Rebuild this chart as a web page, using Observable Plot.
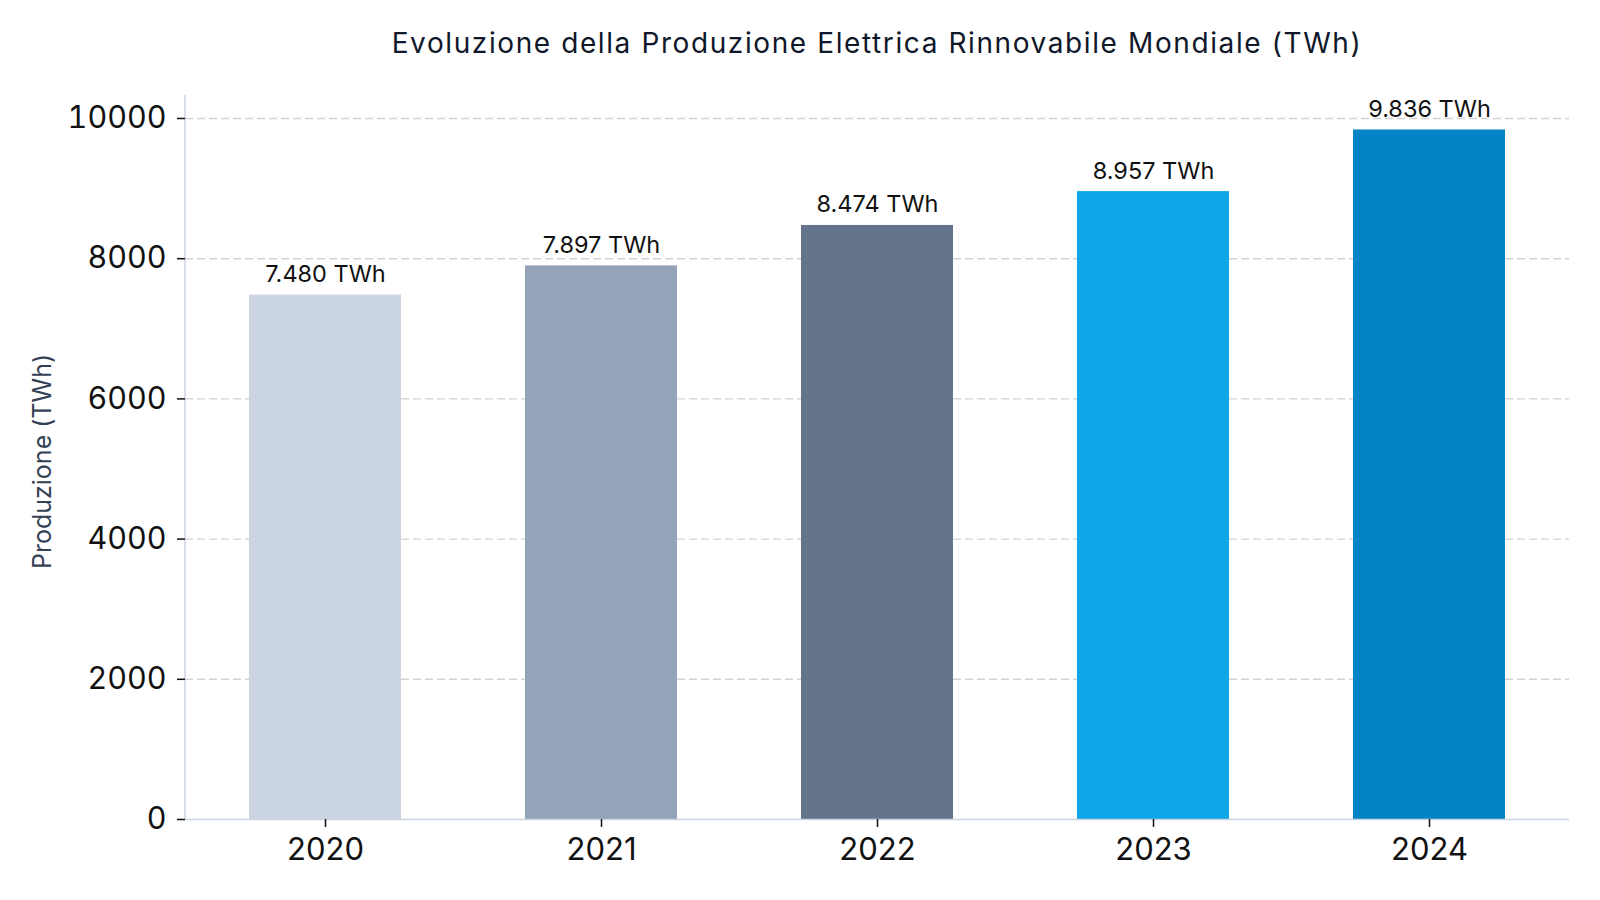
<!DOCTYPE html>
<html>
<head>
<meta charset="utf-8">
<script src="https://cdn.jsdelivr.net/npm/d3@7"></script>
<script src="https://cdn.jsdelivr.net/npm/@observablehq/plot@0.6"></script>
<style>
  html, body { margin: 0; padding: 0; background: #fff; overflow: hidden; }
  #wrap { width: 1600px; height: 900px; font-family: "Inter", "Open Sans", sans-serif; overflow: hidden; }
  #title { height: 80px; box-sizing: border-box; padding-left: 185px; padding-right: 31px; padding-top: 23px;
           text-align: center; font-size: 28px; letter-spacing: 1.6px; color: #0f172a; line-height: 40px; white-space: nowrap; }
  #chart svg { display: block; }
</style>
</head>
<body>
<div id="wrap">
  <div id="title">Evoluzione della Produzione Elettrica Rinnovabile Mondiale (TWh)</div>
  <div id="chart"></div>
</div>
<script>
const years = ["2020", "2021", "2022", "2023", "2024"];
const production = [7480, 7897, 8474, 8957, 9836];
const barColors = ["#cbd5e1", "#94a3b8", "#64748b", "#0ea5e9", "#0284c7"];
const yTicks = [0, 2000, 4000, 6000, 8000, 10000];
const yLabel = "Produzione (TWh)";
const unit = "TWh";

const itLocale = d3.formatLocale({decimal: ",", thousands: ".", grouping: [3], currency: ["€", ""]});
const fmt = itLocale.format(",d");

const data = years.map((y, i) => ({year: y, value: production[i], color: barColors[i]}));

const leftLine = (index, scales, values, dimensions) => {
  const {marginLeft, marginTop, height, marginBottom} = dimensions;
  const line = d3.create("svg:line")
    .attr("x1", marginLeft).attr("x2", marginLeft)
    .attr("y1", marginTop).attr("y2", height - marginBottom)
    .attr("stroke", "#cbd5e1").attr("stroke-width", 1.5);
  return line.node();
};

const chart = Plot.plot({
  width: 1600,
  height: 820,
  marginTop: 15,
  marginBottom: 81,
  marginLeft: 185,
  marginRight: 31,
  style: {fontFamily: "Inter, 'Open Sans', sans-serif", background: "#fff", color: "#111", maxWidth: "none"},
  x: {domain: years, paddingInner: 0.45, paddingOuter: 0.225, label: null},
  y: {domain: [0, d3.max(production) * 1.05], label: null},
  marks: [
    Plot.gridY(yTicks.slice(1), {stroke: "#d4d4d4", strokeOpacity: 1, strokeDasharray: "8,4", strokeWidth: 1.4}),
    Plot.barY(data, {x: "year", y: "value", fill: "color"}),
    Plot.text(data, {x: "year", y: "value", text: d => `${fmt(d.value)} ${unit}`, lineAnchor: "bottom", dy: -13, fontSize: 23.5, fill: "#111"}),
    Plot.ruleY([0], {stroke: "#cbd5e1", strokeWidth: 1.5}),
    leftLine,
    Plot.axisY(yTicks, {tickSize: 8, tickPadding: 11, fontSize: 30.5, tickFormat: d3.format("d"), stroke: "#111", strokeWidth: 1.5, label: null}),
    Plot.axisX({tickSize: 8, tickPadding: 10, fontSize: 31, stroke: "#111", strokeWidth: 1.5, label: null}),
    Plot.text([yLabel], {frameAnchor: "left", textAnchor: "middle", dx: -143, dy: 4, rotate: -90, fontSize: 25, fill: "#334155", text: d => d, style: "letter-spacing: 0.8px"})
  ]
});
document.getElementById("chart").appendChild(chart);
</script>
</body>
</html>
